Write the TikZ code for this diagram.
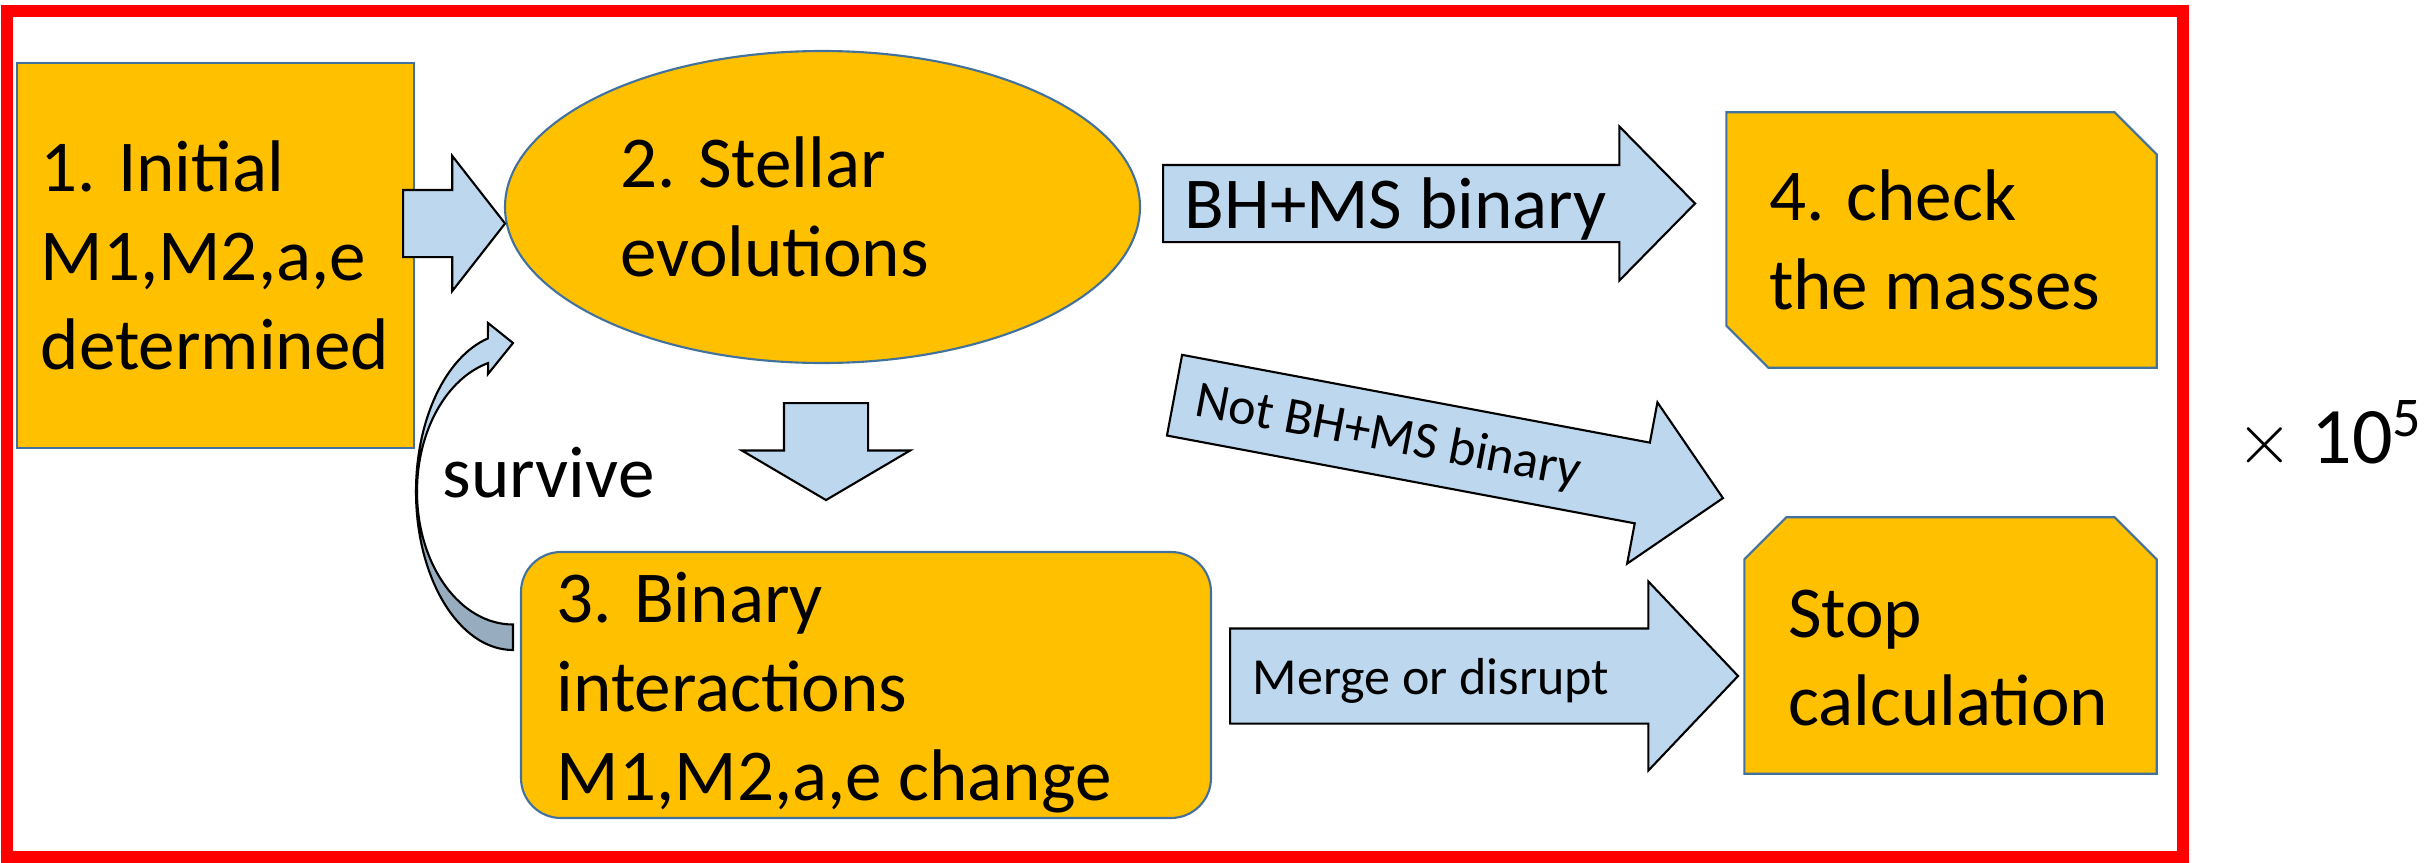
\documentclass[tikz,border=0pt]{standalone}
\usepackage{fontspec}
\setmainfont{Carlito}
\usetikzlibrary{shapes.geometric,shapes.arrows,positioning}

\definecolor{boxfill}{HTML}{FFC000}
\definecolor{boxline}{HTML}{41719C}
\definecolor{arrowfill}{HTML}{BDD7EE}
\definecolor{arrowdark}{HTML}{97ACBF}

\begin{document}
\begin{tikzpicture}[
	% Box style
	box/.style={rectangle,draw=boxline,fill=boxfill,line width=0.6pt,inner sep=0pt},
	cutbox/.style={rectangle,inner sep=0pt},
	% Text styles
	boxtext/.style={inner sep=0pt,align=left,anchor=west,font=\fontsize{20.8}{25.3}\selectfont},
	armtext/.style={inner sep=0pt,anchor=base west,font=\fontsize{14.8}{17}\selectfont},
	% Block arrows
	blockarrow/.style={single arrow,draw=black,fill=arrowfill,line width=0.6pt,inner sep=0pt,text depth=0pt,anchor=tail},
	looparrow/.style={draw=black,fill=arrowfill,line width=0.6pt}
	]
	\useasboundingbox (0,0) rectangle (24.33,-8.63);
	\draw[red,line width=0.12cm] (0.07,-0.11) rectangle (21.825,-8.57);

	%% Draw boxes
	\node (b1) [box,minimum width=3.97cm,minimum height=3.85cm] at (2.155,-2.555) {};
	\node (b2) [box,ellipse,minimum width=6.35cm,minimum height=3.12cm] at (8.225,-2.07) {};
	\node (b3) [box,rounded corners=0.4cm,minimum width=6.9cm,minimum height=2.66cm] at (8.66,-6.85) {};
	\node (b4) [cutbox,minimum width=4.29cm,minimum height=2.54cm] at (19.415,-2.4) {};
	\node (b5) [cutbox,minimum width=4.11cm,minimum height=2.55cm] at (19.505,-6.455) {};
	\filldraw[draw=boxline,fill=boxfill,line width=0.6pt] (b4.north west) -- ([xshift=-0.42cm]b4.north east) -- ([yshift=-0.42cm]b4.north east)
		-- (b4.south east) -- ([xshift=0.42cm]b4.south west) -- ([yshift=0.42cm]b4.south west) -- cycle;
	\filldraw[draw=boxline,fill=boxfill,line width=0.6pt] ([xshift=0.42cm]b5.north west) -- ([xshift=-0.42cm]b5.north east) -- ([yshift=-0.42cm]b5.north east)
		-- (b5.south east) -- (b5.south west) -- ([yshift=-0.42cm]b5.north west) -- cycle;

	\node (t1) [boxtext] at ([xshift=0.24cm]b1.west) {1. Initial\\M1,M2,a,e\\determined};
	\node (t2) [boxtext] at ([xshift=1.16cm]b2.west) {2. Stellar\\evolutions};
	\node (t3) [boxtext] at ([xshift=0.36cm,yshift=-0.08cm]b3.west) {3. Binary\\interactions\\M1,M2,a,e change};
	\node (t4) [boxtext] at ([xshift=0.42cm]b4.west) {4. check\\the masses};
	\node (t5) [boxtext] at ([xshift=0.43cm,yshift=-0.125cm]b5.west) {Stop\\calculation};

	%% Draw arrows
	\node (a12) [blockarrow,text height=0.65cm,single arrow head extend=0.34cm,single arrow tip angle=104,minimum height=1.02cm] at (4.02,-2.235) {};
	\node (a24) [blockarrow,text height=0.75cm,single arrow head extend=0.385cm,single arrow tip angle=91,minimum height=5.32cm] at (11.62,-2.035) {};
	\node (a25) [blockarrow,rotate=-10.63,text height=0.8cm,single arrow head extend=0.41cm,single arrow tip angle=90,minimum height=5.58cm] at (11.735,-3.95) {};
	\node (a23) [blockarrow,rotate=-90,text height=0.82cm,single arrow head extend=0.42cm,single arrow tip angle=119,minimum height=0.97cm] at (8.26,-4.02) {};
	\node (a35) [blockarrow,text height=0.93cm,single arrow head extend=0.47cm,single arrow tip angle=93,minimum height=5.08cm] at (12.29,-6.76) {};

	\node (l24) [armtext,font=\fontsize{20.8}{25.3}\selectfont] at ([xshift=0.22cm,yshift=-0.245cm]a24.tail) {BH+MS binary};
	\node (l25) [armtext,rotate=-10.63] at (11.93,-4.15) {Not BH+MS binary};
	\node (l35) [armtext] at ([xshift=0.23cm,yshift=-0.18cm]a35.tail) {Merge or disrupt};

	%% survive loop
	\coordinate (lc) at (5.13,-4.915);
	\filldraw[looparrow] ([shift={(105:0.97 and 1.585)}]lc) arc[start angle=105,end angle=180,x radius=0.97,y radius=1.585]
		-- ([shift={(180:0.96 and 1.33)}]lc) arc[start angle=180,end angle=105,x radius=0.96,y radius=1.33]
		-- (4.88,-3.74) -- (5.13,-3.43) -- (4.88,-3.23) -- cycle;
	\filldraw[looparrow,fill=arrowdark] ([shift={(180:0.97 and 1.585)}]lc) arc[start angle=180,end angle=270,x radius=0.97,y radius=1.585]
		-- ([shift={(270:0.96 and 1.33)}]lc) arc[start angle=270,end angle=180,x radius=0.96,y radius=1.33] -- cycle;
	\node (sv) [armtext,font=\fontsize{20.8}{25.3}\selectfont] at (4.42,-4.97) {survive};

	\node (x5) [armtext,font=\fontsize{22.8}{26}\selectfont] at (22.36,-4.63) {$\times$ 10\textsuperscript{5}};
\end{tikzpicture}
\end{document}
